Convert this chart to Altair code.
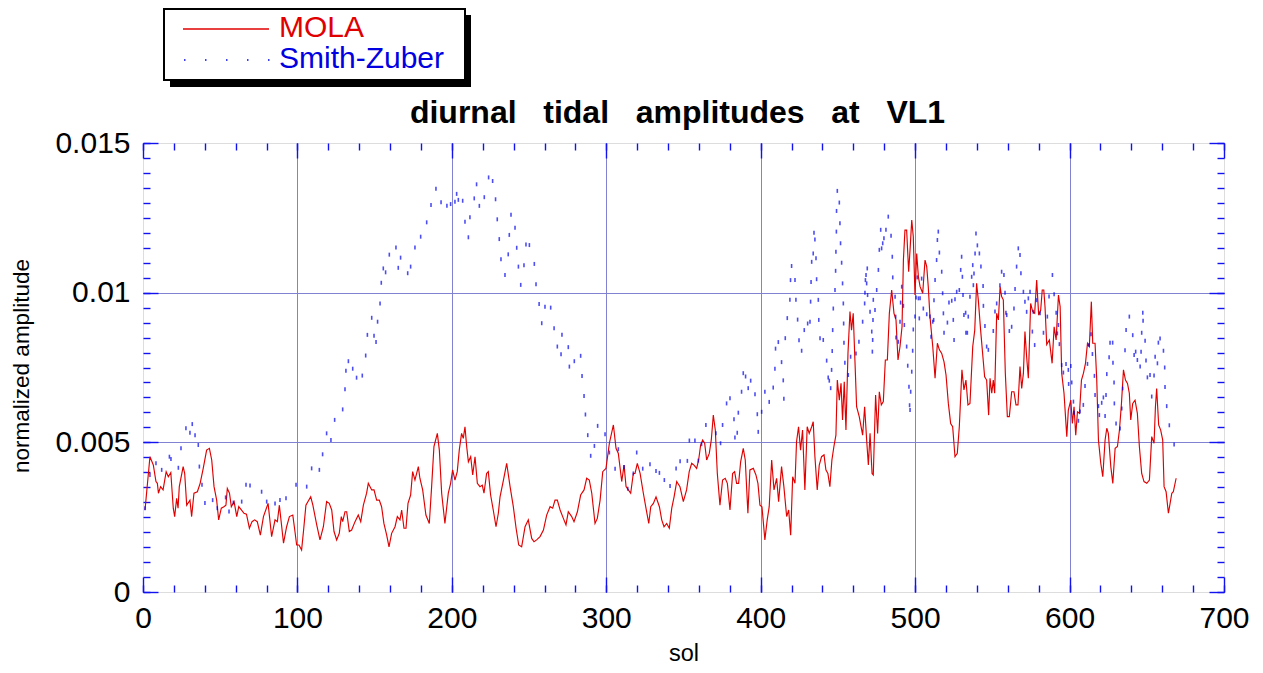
import altair as alt
import pandas as pd

# ---------------- data (amplitude in units of 1e-3) ----------------
mola_sol = [
    1.3, 4.5, 6.7, 8.4, 9.3, 10.0, 11.4, 13.0, 15.0, 16.4, 18.0, 19.6, 20.5, 21.8, 22.7, 23.5,
    26.0, 27.0, 28.3, 30.4, 31.5, 33.0, 35.2, 37.0, 39.0, 41.2, 43.0, 44.5, 46.0, 47.7, 49.0,
    50.7, 52.4, 53.7, 54.6, 56.0, 57.2, 59.0, 60.7, 62.0, 63.7, 65.4, 67.0, 68.9, 70.6, 72.3,
    74.0, 76.0, 78.0, 81.0, 83.3, 85.5, 87.0, 88.3, 91.0, 93.0, 94.8, 97.0, 98.4, 99.5, 101.0,
    102.7, 104.0, 105.5, 108.6, 110.0, 112.5, 114.6, 116.8, 118.9, 120.6, 122.2, 123.7, 125.4,
    127.1, 128.4, 129.3, 130.8, 131.9, 133.6, 135.1, 137.3, 139.4, 141.0, 142.7, 144.8, 145.9,
    148.1, 149.6, 151.3, 153.0, 154.5, 156.0, 157.8, 159.3, 161.0, 163.2, 164.7, 166.4, 167.5,
    169.0, 170.3, 171.6, 173.3, 174.6, 176.1, 178.3, 179.3, 181.1, 183.2, 185.4, 186.9, 188.4,
    190.6, 191.9, 193.4, 195.5, 197.7, 199.2, 200.5, 202.0, 203.5, 204.8, 206.3, 207.4, 208.5,
    209.6, 210.7, 212.2, 213.5, 215.0, 216.5, 218.2, 219.7, 220.8, 222.5, 223.6, 225.1, 226.8,
    228.6, 230.1, 231.2, 233.4, 235.5, 237.7, 239.8, 241.6, 243.3, 245.2, 247.4, 249.5, 251.7,
    253.2, 254.9, 257.1, 259.3, 261.4, 263.6, 265.3, 266.8, 268.3, 270.1, 272.2, 273.9, 275.4,
    277.6, 279.1, 281.3, 283.4, 285.6, 287.3, 289.0, 290.6, 292.7, 294.2, 296.0, 297.7, 299.8,
    302.0, 304.6, 306.3, 307.8, 310.0, 311.5, 312.8, 314.3, 315.8, 317.5, 318.6, 320.1, 321.9,
    324.0, 325.7, 327.5, 328.8, 330.5, 332.2, 334.4, 335.9, 337.4, 339.1, 340.8, 342.4, 343.9,
    345.6, 347.7, 349.9, 352.0, 353.7, 355.3, 356.8, 358.5, 359.8, 361.1, 362.4, 363.7, 365.0,
    366.7, 368.0, 369.3, 370.6, 371.9, 373.6, 375.3, 377.0, 378.4, 380.1, 381.8, 383.1, 384.4,
    385.7, 387.0, 388.7, 390.0, 391.7, 393.0, 395.2, 396.9, 398.2, 399.5, 400.8, 402.7, 404.2,
    405.5, 407.1, 408.6, 410.3, 411.6, 413.5, 415.0, 416.8, 418.1, 419.4, 420.7, 422.2, 423.2,
    424.5, 425.8, 427.1, 428.6, 430.1, 431.4, 433.0, 434.0, 435.1, 436.6, 437.9, 439.4, 441.0,
    442.2, 443.5, 444.8, 446.1, 447.4, 448.7, 449.6, 450.9, 452.0, 453.0, 454.1, 455.2, 456.5,
    457.8, 458.8, 459.9, 461.0, 462.1, 463.8, 466.0, 467.3, 468.6, 469.7, 470.8, 472.1, 472.9,
    474.4, 475.7, 476.8, 478.1, 479.4, 480.7, 482.0, 483.3, 484.8, 486.3, 487.6, 488.9, 490.2,
    491.5, 492.4, 493.4, 494.5, 495.8, 496.7, 497.8, 498.8, 499.9, 501.0, 502.1, 503.2, 504.9,
    506.4, 507.5, 508.5, 509.6, 511.4, 512.9, 514.4, 515.7, 517.2, 518.7, 520.0, 521.5, 523.0,
    524.3, 525.8, 527.3, 528.6, 530.3, 531.6, 532.9, 534.2, 535.5, 537.3, 538.6, 539.8, 540.9,
    542.4, 543.7, 545.0, 546.3, 547.6, 548.5, 549.6, 550.6, 551.5, 552.8, 553.9, 555.0, 556.0,
    557.1, 558.4, 559.7, 561.0, 562.5, 564.0, 565.3, 566.6, 567.9, 569.0, 570.1, 571.1, 572.2,
    573.3, 574.8, 576.1, 577.4, 578.7, 580.0, 581.3, 582.3, 583.3, 584.1, 585.2, 586.9, 588.7,
    590.0, 591.3, 592.8, 593.9, 594.9, 596.4, 598.2, 599.2, 600.8, 601.8, 602.9, 604.0, 605.1,
    606.4, 607.7, 609.0, 610.3, 611.6, 612.8, 614.1, 615.0, 616.5, 617.6, 618.7, 620.2, 621.5,
    623.0, 624.1, 625.1, 626.7, 628.0, 629.5, 631.0, 632.3, 633.6, 634.9, 636.2, 637.5, 638.7,
    639.6, 640.9, 642.4, 643.9, 645.2, 646.7, 648.2, 650.0, 651.7, 653.2, 654.7, 655.6, 656.4,
    657.7, 659.0, 660.3, 661.2, 662.5, 664.0, 665.1, 666.2, 667.2, 669.0,
]
mola_amp_milli = [
    2.74, 4.52, 4.24, 3.69, 3.63, 3.30, 3.52, 3.41, 4.02, 3.85, 3.99, 2.80, 2.52, 3.13, 2.80, 3.52,
    4.19, 3.96, 2.90, 3.07, 2.52, 3.30, 3.35, 3.63, 4.13, 4.74, 4.80, 4.41, 3.52, 3.07, 2.41,
    2.80, 2.85, 2.90, 3.46, 3.30, 2.85, 3.02, 2.52, 2.85, 2.74, 2.63, 2.60, 2.13, 2.35, 2.41,
    2.35, 1.90, 2.52, 2.96, 1.85, 2.41, 2.35, 2.90, 1.63, 2.18, 2.52, 2.57, 2.02, 1.57, 1.57,
    1.40, 2.07, 2.90, 3.18, 2.90, 2.24, 1.74, 2.18, 3.02, 2.96, 2.74, 2.02, 1.74,
    1.96, 2.52, 2.35, 2.68, 2.68, 2.02, 2.07, 2.35, 2.57, 2.35, 2.90, 3.30, 3.63,
    3.41, 3.41, 3.07, 3.07, 2.85, 2.29, 1.90, 1.51, 1.96, 2.18, 2.52, 2.41, 2.74,
    2.13, 2.13, 2.96, 3.24, 4.02, 3.74, 4.19, 3.80, 3.41, 2.57, 2.29, 3.52, 4.86,
    5.30, 4.74, 3.30, 2.29, 3.30, 3.63, 4.08, 3.74, 4.02, 4.74, 5.30, 5.13, 5.52,
    4.86, 4.35, 4.52, 3.91, 4.52, 3.63, 3.52, 3.57, 3.30, 3.96, 4.02, 3.24, 2.74,
    2.18, 2.63, 3.18, 3.74, 4.30, 3.52, 2.85, 2.13, 1.57, 1.51, 2.18, 2.41, 1.79,
    1.68, 1.74, 1.85, 2.07, 2.57, 2.85, 2.80, 3.07, 3.07, 2.74, 2.46, 2.24, 2.68,
    2.52, 2.35, 2.68, 3.24, 3.41, 3.80, 3.74, 3.30, 2.29, 2.46, 3.07, 4.02, 4.13,
    4.97, 5.58, 4.80, 4.63, 3.69, 4.24, 3.52, 3.41, 3.30, 3.96, 3.96, 4.30, 3.96,
    3.30, 2.80, 2.29, 2.85, 2.96, 3.18, 2.85, 2.41, 2.18, 2.29, 2.13, 2.80, 3.18,
    3.69, 3.52, 3.02, 3.41, 4.02, 4.30, 4.24, 4.13, 4.41, 4.91, 5.08, 4.97, 4.41,
    4.63, 5.08, 5.91, 5.41, 3.96, 2.90, 3.74, 3.80, 3.63, 2.74, 3.96, 4.02, 3.63,
    3.63, 4.35, 4.80, 4.41, 2.63, 4.08, 4.13, 3.91, 3.63, 2.90, 2.85, 1.74, 2.41,
    2.85, 4.41, 3.41, 3.80, 3.02, 4.19, 3.52, 2.52, 2.74, 1.90, 3.85, 3.63, 5.02,
    5.52, 4.74, 5.41, 3.41, 5.52, 5.30, 5.52, 5.69, 4.52, 3.41, 4.24, 4.52, 4.58,
    4.08, 3.96, 3.52, 4.41, 4.86, 5.24, 7.08, 6.41, 6.97, 5.75, 7.02, 5.41, 7.97,
    9.37, 8.75, 9.31, 7.75, 6.19, 5.86, 5.24, 6.19, 5.08, 4.24, 5.30, 3.96, 3.91,
    6.58, 5.30, 6.69, 6.25, 6.36, 7.75, 7.75, 9.31, 10.09, 9.31, 9.09, 7.75, 8.20,
    8.86, 11.09, 12.09, 12.09, 10.70, 11.43, 12.43, 11.87, 9.92, 11.31, 10.53, 10.20, 9.98,
    11.09, 10.87, 10.20, 9.20, 8.20, 7.14, 8.31, 8.09, 7.97, 7.69, 7.25, 6.30, 5.63,
    5.52, 4.52, 4.63, 5.52, 7.42, 6.75, 7.08, 6.25, 6.30, 8.20, 8.75, 10.31, 9.76,
    8.75, 7.97, 7.19, 7.08, 5.91, 7.14, 6.64, 7.08, 6.64, 9.31, 9.09, 10.20, 9.87,
    9.76, 7.31, 5.86, 5.86, 6.69, 6.69, 6.25, 6.25, 7.53, 6.80, 7.31, 8.70, 7.86,
    7.14, 9.64, 9.37, 9.31, 10.42, 9.25, 9.42, 10.09, 10.09, 9.53, 8.27, 8.42, 7.64,
    8.86, 8.42, 9.92, 9.53, 7.31, 6.64, 5.19, 6.08, 6.41, 5.63, 6.19, 5.24, 6.02,
    5.97, 7.08, 7.31, 7.64, 8.31, 8.20, 9.70, 8.31, 8.31, 7.08, 5.08, 4.30, 3.85,
    5.08, 5.47, 5.30, 4.19, 3.63, 4.80, 4.86, 5.41, 6.30, 7.42, 7.08, 6.97, 6.64,
    5.75, 6.30, 6.41, 5.97, 4.86, 3.96, 3.69, 3.63, 3.74, 5.19, 4.97, 6.19, 6.80,
    5.58, 5.41, 5.08, 3.52, 3.35, 2.63, 2.96, 3.30, 3.35, 3.80,
]

sz_sol = [
    1.3, 4.5, 8.4, 12.1, 17.1, 18.1, 22.9, 24.6, 27.8, 30.4, 31.9, 33.7, 35.8, 36.5, 38.2, 40.1,
    45.1, 48.1, 53.5, 55.7, 58.5, 63.9, 66.7, 69.3, 76.8, 80.1, 85.5, 88.7, 92.6, 99.1, 106.0,
    109.2, 114.2, 116.3, 118.9, 121.7, 124.1, 129.3, 130.8, 131.4, 133.0, 135.8, 138.3, 142.0,
    144.2, 145.3, 148.1, 149.6, 150.9, 151.9, 153.5, 154.3, 155.6, 157.1, 159.5, 163.8, 165.3,
    166.8, 171.4, 173.3, 176.1, 179.8, 183.7, 186.5, 189.7, 193.0, 196.8, 199.2, 202.0, 203.1,
    204.2, 207.0, 208.5, 210.7, 211.7, 214.5, 216.0, 217.8, 221.0, 223.8, 226.4, 228.3, 229.4,
    230.7, 231.8, 234.4, 236.5, 237.2, 238.3, 240.9, 242.0, 243.1, 244.6, 246.7, 248.0, 250.2,
    253.4, 254.5, 256.5, 258.2, 260.3, 264.0, 266.2, 268.3, 270.7, 271.3, 275.4, 276.1, 279.3,
    283.4, 284.3, 285.6, 286.5, 288.0, 289.9, 292.3, 294.4, 299.2, 302.0, 305.7, 307.8, 311.5,
    313.9, 317.5, 319.7, 323.6, 328.3, 332.2, 334.4, 337.6, 341.3, 345.2, 347.8, 352.5, 353.8,
    357.4, 359.6, 361.7, 364.5, 371.0, 374.0, 375.3, 377.9, 380.1, 382.7, 383.3, 384.8, 385.5,
    387.6, 388.7, 390.2, 391.9, 393.5, 396.3, 397.8, 398.4, 400.6, 402.7, 405.5, 408.1, 409.2,
    409.6, 411.4, 413.5, 414.6, 415.0, 415.9, 417.2, 418.9, 419.3, 420.0, 422.2, 422.8, 423.9,
    424.8, 426.5, 428.2, 430.4, 431.9, 432.3, 432.6, 433.0, 434.0, 434.5, 435.1, 435.8, 436.2,
    437.3, 437.6, 438.4, 440.5, 442.7, 443.7, 444.4, 445.3, 445.9, 446.3, 446.6, 447.0, 448.1,
    448.5, 448.7, 449.0, 449.1, 449.6, 450.9, 451.3, 451.7, 452.4, 453.0, 453.5, 453.7, 453.9,
    454.5, 456.7, 458.2, 461.7, 463.6, 466.0, 467.3, 467.5, 468.2, 468.6, 469.0, 467.8, 469.2,
    470.8, 471.9, 472.3, 472.5, 472.7, 472.9, 474.0, 475.1, 476.2, 476.8, 477.7, 478.3, 479.0,
    479.8, 481.1, 482.6, 484.4, 485.2, 485.5, 487.0, 487.4, 487.6, 489.1, 490.2, 490.6, 491.3,
    492.4, 493.0, 494.5, 495.2, 496.0, 496.4, 496.7, 497.1, 497.8, 498.4, 498.8, 499.9, 500.6,
    501.4, 502.1, 502.7, 503.2, 504.2, 505.3, 507.5, 509.6, 510.3, 511.4, 512.0, 512.2, 512.9,
    513.9, 514.4, 515.0, 515.7, 517.2, 517.8, 518.3, 518.7, 520.9, 521.9, 523.7, 524.7, 525.2,
    525.8, 526.9, 528.6, 529.5, 530.1, 530.6, 531.0, 531.6, 532.7, 532.9, 533.8, 534.4, 535.5,
    536.6, 537.3, 537.7, 538.1, 538.8, 539.4, 540.3, 541.6, 542.6, 544.0, 544.2, 545.2, 546.3,
    547.4, 550.6, 551.7, 552.8, 554.9, 556.0, 557.5, 558.2, 558.8, 559.3, 561.0, 562.5, 564.0,
    564.7, 565.7, 566.8, 567.9, 568.5, 570.1, 571.1, 572.2, 573.3, 574.4, 575.9, 576.5, 577.4,
    578.7, 580.9, 583.1, 585.6, 586.7, 588.9, 590.0, 591.3, 592.1, 592.8, 593.4, 594.9, 596.0,
    597.7, 599.2, 599.4, 600.8, 601.4, 602.5, 602.9, 605.7, 606.8, 608.9, 610.0, 611.6, 612.6,
    613.9, 614.8, 616.1, 616.5, 618.7, 619.3, 620.8, 621.9, 623.0, 623.6, 624.1, 625.6, 626.2,
    627.9, 628.1, 628.8, 629.0, 630.1, 632.7, 633.8, 634.4, 635.9, 636.6, 638.7, 640.9, 641.8,
    642.8, 643.9, 645.7, 646.3, 646.7, 647.4, 647.6, 648.9, 649.5, 650.4, 652.1, 653.2, 654.7,
    655.4, 656.9, 657.5, 658.6, 660.8, 661.6, 661.8, 662.9, 664.6, 667.7,
]
sz_amp_milli = [
    2.80, 3.91, 4.30, 4.08, 4.52, 4.44, 4.15, 4.80, 5.47, 5.32, 5.61, 5.24, 4.91, 4.19, 3.58, 2.97,
    3.07, 2.80, 3.16, 2.69, 2.99, 3.02, 3.58, 3.56, 3.35, 3.02, 2.96, 3.07, 3.13, 3.58, 3.52,
    4.13, 4.08, 4.60, 5.30, 5.08, 5.75, 6.10, 6.77, 7.39, 7.71, 7.46, 7.16, 7.23,
    7.90, 8.59, 9.16, 8.56, 8.35, 9.03, 9.64, 10.33, 10.81, 10.68, 11.27, 11.51, 10.83,
    11.17, 10.65, 10.87, 11.51, 11.87, 12.35, 12.93, 13.47, 13.02, 12.90, 12.96, 13.04, 13.30,
    13.10, 13.07, 12.37, 11.85, 12.52, 13.15, 13.62, 12.90, 13.19, 13.85, 13.73, 13.12, 12.45,
    11.79, 11.12, 10.59, 11.28, 11.93, 12.60, 12.17, 11.50, 10.87, 10.26, 10.92, 11.61, 11.59,
    10.96, 10.28, 9.62, 8.98, 9.53, 9.50, 8.81, 8.20, 7.94, 8.59, 8.18, 7.53, 7.71,
    7.89, 7.22, 6.55, 5.93, 5.24, 4.55, 4.88, 5.55, 5.27, 4.66, 4.12, 4.77, 4.18,
    3.45, 3.96, 4.66, 4.12, 4.27, 4.04, 3.98, 3.74, 3.54, 4.13, 4.37, 4.38, 5.06,
    5.06, 4.39, 4.94, 5.58, 5.30, 4.97, 5.58, 6.30, 6.47, 5.77, 5.16, 5.32, 5.99,
    6.69, 7.31, 7.20, 6.81, 7.06, 6.61, 5.94, 5.35, 6.02, 6.69, 6.35, 6.83, 7.46,
    8.13, 8.35, 7.68, 7.07, 6.46, 8.48, 9.15, 9.76, 10.42, 10.89, 10.42, 9.76, 9.10,
    8.41, 8.06, 8.75, 8.97, 9.03, 9.70, 10.36, 11.03, 11.31, 12.00, 11.78, 11.15, 10.45,
    9.76, 9.09, 8.48, 8.42, 7.73, 7.17, 7.06, 6.81, 7.42, 8.05, 8.75, 9.47, 10.09,
    10.73, 11.37, 12.04, 12.73, 13.40, 13.01, 12.32, 11.65, 11.00, 10.31, 9.64, 8.97, 8.33,
    7.66, 7.25, 7.86, 7.97, 8.36, 9.03, 9.64, 10.00, 10.59, 10.31, 10.81, 10.42, 9.92,
    9.36, 8.70, 8.03, 8.42, 9.09, 9.76, 9.42, 10.09, 10.76, 11.43, 12.10, 11.48, 11.65,
    11.82, 12.10, 12.54, 11.90, 11.20, 10.51, 9.86, 9.20, 8.50, 8.36, 9.03, 9.67, 10.20,
    9.56, 8.92, 8.20, 7.56, 6.86, 6.24, 6.08, 6.69, 7.36, 8.06, 8.77, 9.20, 9.84,
    10.51, 9.81, 9.14, 9.81, 10.47, 9.47, 9.28, 9.20, 8.53, 9.03, 9.09, 9.75, 10.42,
    11.09, 11.76, 12.04, 11.34, 10.70, 9.98, 9.31, 8.66, 9.00, 9.67, 9.73, 9.09, 8.42,
    9.78, 10.03, 10.09, 10.76, 11.20, 10.53, 9.92, 9.25, 9.33, 8.66, 8.66, 9.20, 9.86,
    10.53, 10.92, 10.25, 10.64, 11.31, 11.98, 11.58, 11.31, 10.87, 10.22, 9.56, 8.89, 8.20,
    8.09, 8.72, 9.37, 9.64, 10.25, 10.70, 10.59, 10.00, 9.33, 9.25, 8.72, 8.86, 9.47,
    10.12, 10.87, 11.48, 11.26, 10.65, 10.03, 9.70, 9.36, 9.81, 10.03, 8.70, 9.36, 8.25,
    9.75, 9.31, 8.66, 9.20, 9.87, 10.59, 9.95, 9.33, 8.64, 8.92, 8.28, 7.58, 7.33,
    7.62, 7.42, 6.95, 7.55, 7.00, 6.36, 5.99, 5.72, 6.03, 6.25, 6.88, 7.62, 8.25,
    8.61, 7.95, 7.22, 6.58, 6.21, 5.91, 6.32, 6.50, 5.88, 6.58, 7.28, 7.84, 8.33,
    8.33, 7.66, 7.00, 6.30, 5.63, 5.46, 6.13, 6.80, 8.08, 8.75, 9.20, 8.58, 7.92,
    8.03, 7.75, 7.53, 8.03, 8.66, 9.33, 9.06, 8.39, 7.73, 7.17, 7.25, 6.53, 7.23,
    7.86, 7.64, 8.33, 8.47, 8.06, 7.50, 6.85, 6.21, 5.57, 4.93,
]

series_names = ["MOLA", "Smith-Zuber"]
chart_title = "diurnal\u00a0\u00a0 tidal\u00a0\u00a0 amplitudes\u00a0\u00a0 at\u00a0\u00a0 VL1"
x_title = "sol"
y_title = "normalized amplitude"
x_major = [0, 100, 200, 300, 400, 500, 600, 700]
x_minor = [0, 20, 40, 60, 80, 100, 120, 140, 160, 180, 200, 220, 240, 260, 280, 300, 320, 340,
           360, 380, 400, 420, 440, 460, 480, 500, 520, 540, 560, 580, 600, 620, 640, 660, 680, 700]
y_major = [0, 0.005, 0.01, 0.015]
y_minor = [0, 0.0005, 0.001, 0.0015, 0.002, 0.0025, 0.003, 0.0035, 0.004, 0.0045, 0.005,
           0.0055, 0.006, 0.0065, 0.007, 0.0075, 0.008, 0.0085, 0.009, 0.0095, 0.01,
           0.0105, 0.011, 0.0115, 0.012, 0.0125, 0.013, 0.0135, 0.014, 0.0145, 0.015]

mola = pd.DataFrame({"sol": mola_sol, "amp": [v * 1e-3 for v in mola_amp_milli]})
sz = pd.DataFrame({"sol": sz_sol, "amp": [v * 1e-3 for v in sz_amp_milli]})

# ---------------- styling ----------------
W, H = 1081, 449
FONT = "Liberation Sans"
FRAME = "#1212f0"
GRID = "#8282d2"
RED = "#e00000"
BLUE = "#0000ee"

xs = alt.Scale(domain=[0, 700], nice=False, zero=False)
ys = alt.Scale(domain=[0, 0.015], nice=False, zero=False)


def tick_axis(orient, values, length):
    return alt.Axis(orient=orient, values=values, offset=-length, tickSize=length,
                    ticks=True, tickColor=FRAME, tickWidth=1.4, domain=False,
                    labels=False, grid=False, title=None)


x_main = alt.Axis(
    orient="bottom", values=x_major, format="d", domain=False, ticks=False, tickSize=0,
    labelFont=FONT, labelFontSize=30, labelColor="black", labelPadding=11,
    labelFlush=False, labelOverlap=False,
    grid=True, gridColor=GRID, gridWidth=1,
    gridOpacity={"condition": {"test": "datum.value <= 0 || datum.value >= 700", "value": 0}, "value": 1},
    title=x_title, titleFont=FONT, titleFontSize=23.5, titleFontWeight="normal", titleColor="black",
    titleX=W / 2, titleY=68, titleBaseline="alphabetic", titleAlign="center",
)
y_main = alt.Axis(
    orient="left", values=y_major, labelExpr="format(datum.value, '.3~f')",
    domain=False, ticks=False, tickSize=0,
    labelFont=FONT, labelFontSize=30, labelColor="black", labelPadding=13,
    labelFlush=False, labelOverlap=False,
    grid=True, gridColor=GRID, gridWidth=1,
    gridOpacity={"condition": {"test": "datum.value <= 0 || datum.value >= 0.015", "value": 0}, "value": 1},
    title=y_title, titleFont=FONT, titleFontSize=22.5, titleFontWeight="normal", titleColor="black",
    titleX=-114.5, titleY=H / 2 - 2, titleAngle=-90, titleBaseline="alphabetic", titleAlign="center",
)

mola_line = alt.Chart(mola).mark_line(color=RED, strokeWidth=1.15).encode(
    x=alt.X("sol:Q", scale=xs, axis=x_main),
    y=alt.Y("amp:Q", scale=ys, axis=y_main),
)
sz_dots = alt.Chart(sz).mark_tick(orient="vertical", size=4, thickness=1.6, color=BLUE).encode(
    x=alt.X("sol:Q", scale=xs, axis=tick_axis("bottom", x_major, 15)),
    y=alt.Y("amp:Q", scale=ys, axis=tick_axis("left", y_major, 15)),
)
hidden1 = alt.Chart(mola).mark_line(strokeOpacity=0).encode(
    x=alt.X("sol:Q", scale=xs, axis=tick_axis("bottom", x_minor, 7)),
    y=alt.Y("amp:Q", scale=ys, axis=tick_axis("left", y_minor, 7)),
)
hidden2 = alt.Chart(mola).mark_line(strokeOpacity=0).encode(
    x=alt.X("sol:Q", scale=xs, axis=tick_axis("top", x_major, 15)),
    y=alt.Y("amp:Q", scale=ys, axis=tick_axis("right", y_major, 15)),
)
hidden3 = alt.Chart(mola).mark_line(strokeOpacity=0).encode(
    x=alt.X("sol:Q", scale=xs, axis=tick_axis("top", x_minor, 7)),
    y=alt.Y("amp:Q", scale=ys, axis=tick_axis("right", y_minor, 7)),
)

one = alt.Data(values=[{}])
shadow = alt.Chart(one).mark_rect(color="black").encode(
    x=alt.value(27), x2=alt.value(328), y=alt.value(-128), y2=alt.value(-56))
box = alt.Chart(one).mark_rect(fill="white", stroke="black", strokeWidth=2).encode(
    x=alt.value(21), x2=alt.value(322), y=alt.value(-134), y2=alt.value(-63))
leg_red = alt.Chart(one).mark_rule(color=RED, strokeWidth=1.4).encode(
    x=alt.value(40), x2=alt.value(126), y=alt.value(-114))
leg_blue = alt.Chart(one).mark_rule(color=BLUE, strokeWidth=1.6, strokeDash=[1.5, 19.5]).encode(
    x=alt.value(41), x2=alt.value(128), y=alt.value(-83))
leg_t1 = alt.Chart(one).mark_text(text=series_names[0], font=FONT, fontSize=30, color=RED,
                                  align="left", baseline="alphabetic").encode(
    x=alt.value(136), y=alt.value(-106))
leg_t2 = alt.Chart(one).mark_text(text=series_names[1], font=FONT, fontSize=30, color="#0000e0",
                                  align="left", baseline="alphabetic").encode(
    x=alt.value(136), y=alt.value(-75))
title = alt.Chart(one).mark_text(text=chart_title, font=FONT, fontSize=32, fontWeight="bold",
                                 color="black", align="center", baseline="alphabetic").encode(
    x=alt.value(W / 2 - 6), y=alt.value(-20))

chart = alt.layer(
    mola_line, sz_dots, hidden1, hidden2, hidden3,
    shadow, box, leg_red, leg_blue, leg_t1, leg_t2, title,
).resolve_axis(x="independent", y="independent").properties(
    width=W, height=H,
    padding={"left": 135, "top": 135, "right": 31, "bottom": 73},
    autosize=alt.AutoSizeParams(type="none"),
).configure_view(stroke=FRAME, strokeWidth=2).configure(background="white")

chart.save("out.html", embed_options={"renderer": "svg", "actions": False})
